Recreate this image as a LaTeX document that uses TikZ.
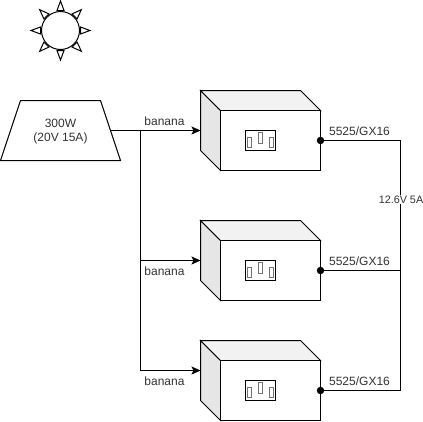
\documentclass[tikz,border=0pt]{standalone}
\usepackage{fontspec}
\setmainfont{Liberation Sans}
\usetikzlibrary{arrows.meta,calc}
\definecolor{txt}{HTML}{333333}
\definecolor{sidegray}{HTML}{E6E6E6}
\definecolor{topgray}{HTML}{F2F2F2}
\tikzset{
  ln/.style={draw=black,line width=1pt,line join=miter},
  lbl/.style={font=\fontsize{12}{13.5}\selectfont,text=txt,inner sep=0pt,align=center},
  wire/.style={ln},
  arrowwire/.style={ln,-{Stealth[length=9pt,width=8pt,inset=2pt]}},
  dotnode/.style={circle,fill=black,inner sep=0pt,minimum size=7.5pt},
  frontface/.style={ln,fill=white,rectangle,minimum width=100pt,minimum height=60pt,inner sep=0pt,outer sep=0pt},
  socket/.style={ln,fill=white,rectangle,minimum width=30pt,minimum height=20pt,inner sep=0pt,outer sep=0pt},
  prong/.style={draw=black!55,line width=1pt,fill=white},
  ray/.style={ln,fill=white,line join=miter},
}
\newcommand{\powerbox}[3]{%
  % #1 name, #2 top of the cube, #3 height of the arrow's end
  \path[ln,fill=sidegray] (200,#2) -- (220,#2+20) -- (220,#2+80) -- (200,#2+60) -- cycle;
  \path[ln,fill=topgray] (200,#2) -- (300,#2) -- (320,#2+20) -- (220,#2+20) -- cycle;
  \node[frontface] (#1) at (270,#2+50) {};
  \coordinate (#1in) at (200,#3);
  \node[socket] (#1s) at (260,#2+50) {};
  \path[prong] (247,#2+47) rectangle (251,#2+57);
  \path[prong] (258,#2+42) rectangle (262,#2+53);
  \path[prong] (269,#2+47) rectangle (273,#2+57);
}
\begin{document}
\begin{tikzpicture}[x=1pt,y=-1pt]
\useasboundingbox (-0.5,-0.5) rectangle (422.5,420.5);
% sun
\foreach \a in {0,45,...,315}{
  \path[ray,rotate around={\a:(60,30)}] (56.5,10) -- (60,0.5) -- (63.5,10) -- cycle;
}
\node[circle,ln,fill=white,minimum size=38pt,inner sep=0pt,outer sep=0pt] (sun) at (60,30) {};
% panel
\path[ln,fill=white] (20,100) -- (100,100) -- (120,160) -- (0,160) -- cycle;
\node[lbl] (panel) at (60,131) {300W\\(20V 15A)};
% boxes
\powerbox{a}{90}{130}
\powerbox{b}{220}{260}
\powerbox{c}{340}{370}
% dots
\coordinate (aout) at (320,140);
\coordinate (bout) at (320,270);
\coordinate (cout) at (320,390);
\coordinate (pout) at (110,130);
\coordinate (fork) at (140,130);
\coordinate (rail) at (400,140);
% connectors
\draw[arrowwire] (pout) -- (ain);
\draw[arrowwire] (fork) |- (bin);
\draw[arrowwire] (fork) |- (cin);
\draw[wire] (aout) -- (rail) |- (cout);
\draw[wire] (bout) -- (bout -| rail);
\node[dotnode] (adot) at (aout) {};
\node[dotnode] (bdot) at (bout) {};
\node[dotnode] (cdot) at (cout) {};
% labels
\node[lbl] (l1) at (164,121) {banana};
\node[lbl] (l2) at (164,271) {banana};
\node[lbl] (l3) at (164,381) {banana};
\node[lbl] (o1) at (359,131) {5525/GX16};
\node[lbl] (o2) at (359,261) {5525/GX16};
\node[lbl] (o3) at (359,381) {5525/GX16};
\node[lbl,font=\fontsize{10.8}{12}\selectfont,fill=white,inner sep=1pt] (v) at (400.5,199) {12.6V 5A};
\end{tikzpicture}
\end{document}
